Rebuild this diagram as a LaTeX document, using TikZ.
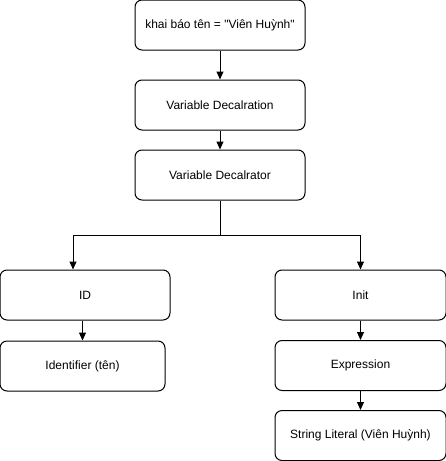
\documentclass[tikz,border=0pt]{standalone}
\usepackage{fontspec}
\newfontfamily\boxfont{Liberation Sans}
\usetikzlibrary{arrows.meta}

\tikzset{
  box/.style={draw, rounded corners=7pt, line width=1pt, minimum height=50pt,
    inner sep=0pt, font=\boxfont\fontsize{12}{14}\selectfont},
  arr/.style={-{Triangle[length=8pt,width=7pt]}, line width=1pt}
}

\begin{document}
\begin{tikzpicture}[x=1pt, y=-1pt]
  \useasboundingbox (0,0) rectangle (446,461);

  \node[box, minimum width=170pt] (src)   at (220,25)    {khai báo tên = "Viên Huỳnh"};
  \node[box, minimum width=170pt] (decl)  at (220,105)   {Variable Decalration};
  \node[box, minimum width=170pt] (dtor)  at (220,175)   {Variable Decalrator};
  \node[box, minimum width=170pt] (id)    at (85,295)    {ID};
  \node[box, minimum width=171pt] (init)  at (360.5,295) {Init};
  \node[box, minimum width=165pt] (ident) at (82.5,366)  {Identifier (tên)};
  \node[box, minimum width=171pt] (expr)  at (360.5,365.5) {Expression};
  \node[box, minimum width=171pt] (lit)   at (360.5,435.5) {String Literal (Viên Huỳnh)};

  \coordinate (split) at (220,235);

  \draw[arr] (src) -- (decl);
  \draw[arr] (decl) -- (dtor);
  \draw (dtor.south) -- (split);
  \draw[arr] (split) -| ([xshift=-12pt]id.north);
  \draw[arr] (split) -| (init.north);
  \draw[arr] (id.south -| ident.north) -- (ident.north);
  \draw[arr] (init) -- (expr);
  \draw[arr] (expr) -- (lit);
\end{tikzpicture}
\end{document}
